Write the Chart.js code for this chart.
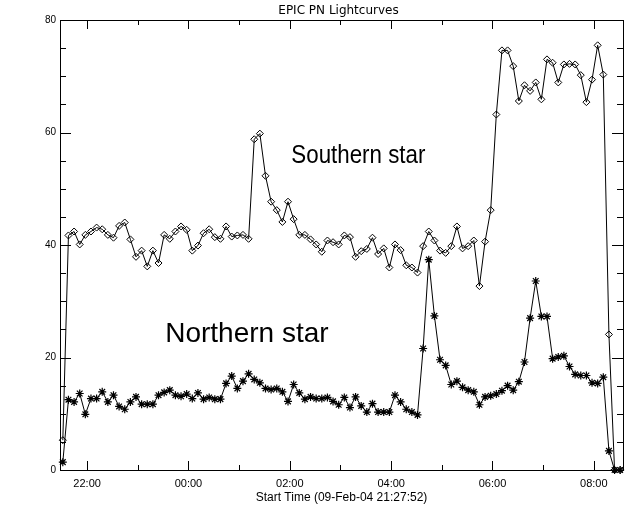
<!DOCTYPE html>
<html>
<head>
<meta charset="utf-8">
<title>EPIC PN Lightcurves</title>
<script src="https://cdn.jsdelivr.net/npm/chart.js@4.4.1/dist/chart.umd.min.js"></script>
<style>
  html, body { margin: 0; padding: 0; background: #fff; }
  canvas { display: block; }
</style>
</head>
<body>
<canvas id="lc" width="640" height="512"></canvas>
<script>
// light curve, 400 s bins starting 09-Feb-04 21:27:52
var startHour = 21 + 27 / 60 + 52 / 3600;
var binSeconds = 400;

var southern = [
  5.3, 41.7, 42.4, 40.1, 41.8, 42.4, 43.1, 42.8, 41.8, 41.3,
  43.4, 44.0, 41.0, 37.9, 39.0, 36.2, 39.0, 36.8, 41.8, 41.1,
  42.4, 43.3, 42.7, 39.0, 39.9, 42.1, 42.8, 41.4, 41.1, 43.3,
  41.5, 41.7, 41.8, 41.1, 58.8, 59.8, 52.3, 47.7, 46.2, 44.1,
  47.7, 44.6, 41.8, 41.8, 41.0, 40.1, 38.8, 40.8, 40.5, 40.1,
  41.7, 41.4, 37.9, 38.9, 39.3, 41.3, 38.4, 39.4, 36.0, 40.1,
  39.1, 36.4, 36.0, 35.1, 39.8, 42.4, 40.8, 39.0, 38.6, 39.8,
  43.3, 39.4, 39.8, 40.8, 32.7, 40.6, 46.2, 63.2, 74.6, 74.6,
  71.8, 65.6, 68.4, 67.4, 68.9, 65.9, 73.0, 72.4, 68.9, 72.1,
  72.2, 72.1, 70.2, 65.4, 69.4, 75.5, 70.3, 24.1, 0, 0
];

var northern = [
  1.4, 12.5, 12.1, 13.6, 9.9, 12.7, 12.7, 13.9, 12.1, 13.3,
  11.3, 10.8, 12.1, 13.0, 11.7, 11.7, 11.7, 13.3, 13.8, 14.2,
  13.3, 13.1, 13.5, 12.7, 13.7, 12.6, 12.9, 12.6, 12.6, 15.4,
  16.7, 14.5, 15.8, 17.1, 16.1, 15.5, 14.5, 14.3, 14.5, 13.9,
  12.2, 15.2, 13.7, 12.6, 13.0, 12.7, 12.7, 12.9, 12.2, 11.6,
  12.9, 11.1, 13.0, 11.4, 10.3, 11.8, 10.3, 10.3, 10.3, 13.3,
  12.1, 10.8, 10.3, 9.8, 21.6, 37.4, 27.4, 19.6, 18.6, 15.2,
  15.8, 14.7, 14.2, 13.9, 11.6, 13.0, 13.2, 13.5, 14.1, 15.0,
  14.2, 15.7, 19.2, 27.0, 33.6, 27.3, 27.3, 19.8, 20.1, 20.3,
  18.4, 17.0, 16.8, 16.8, 15.5, 15.4, 16.5, 3.4, 0, 0
];

var xTickHours = [22, 24, 26, 28, 30, 32];
var xTickLabels = ['22:00', '00:00', '02:00', '04:00', '06:00', '08:00'];
var yTickValues = [0, 20, 40, 60, 80];

var endHour = startHour + southern.length * binSeconds / 3600;

function toPoints(vals) {
  return vals.map(function(v, i) {
    return { x: startHour + (i + 0.5) * binSeconds / 3600, y: v };
  });
}

// IDL style frame: box, inward ticks, title and star labels
var idlFrame = {
  id: 'idlFrame',
  beforeDatasetsDraw: function(chart) {
    var ctx = chart.ctx, a = chart.chartArea, xs = chart.scales.x, ys = chart.scales.y;
    ctx.save();
    ctx.strokeStyle = '#000';
    ctx.lineWidth = 1;
    ctx.strokeRect(a.left + 0.5, a.top + 0.5, a.right - a.left, a.bottom - a.top);
    ctx.beginPath();
    for (var h = Math.ceil(startHour); h <= endHour; h++) {
      var px = Math.round(xs.getPixelForValue(h)) + 0.5;
      var len = h % 2 === 0 ? 9 : 5;
      ctx.moveTo(px, a.bottom); ctx.lineTo(px, a.bottom - len);
      ctx.moveTo(px, a.top); ctx.lineTo(px, a.top + len);
    }
    for (var v = 0; v <= 80; v += 5) {
      var py = Math.round(ys.getPixelForValue(v)) + 0.5;
      var l = v % 20 === 0 ? 11 : 6;
      ctx.moveTo(a.left, py); ctx.lineTo(a.left + l, py);
      ctx.moveTo(a.right, py); ctx.lineTo(a.right - l, py);
    }
    ctx.stroke();
    ctx.restore();
  },
  afterDraw: function(chart) {
    var ctx = chart.ctx, a = chart.chartArea, xs = chart.scales.x, ys = chart.scales.y;
    ctx.save();
    ctx.fillStyle = '#000';
    ctx.textAlign = 'center';
    ctx.textBaseline = 'middle';
    ctx.font = '12px "DejaVu Sans"';
    ctx.fillText('EPIC PN Lightcurves', (a.left + a.right) / 2 - 3, 11);

    ctx.textAlign = 'left';
    ctx.textBaseline = 'alphabetic';
    ctx.font = '25px "Liberation Sans"';
    ctx.fillText('Southern star', xs.getPixelForValue(26.03), ys.getPixelForValue(54.6), 134);
    ctx.font = '28px "Liberation Sans"';
    ctx.fillText('Northern star', xs.getPixelForValue(23.54), ys.getPixelForValue(22.8), 170);
    ctx.restore();
  }
};

new Chart(document.getElementById('lc').getContext('2d'), {
  type: 'line',
  data: {
    datasets: [
      {
        label: 'Southern star',
        data: toPoints(southern),
        borderColor: '#000',
        borderWidth: 1,
        pointStyle: 'rectRot',
        pointRadius: 3.5,
        pointBorderColor: '#000',
        pointBackgroundColor: 'rgba(0,0,0,0)',
        pointBorderWidth: 1,
        tension: 0,
        clip: false
      },
      {
        label: 'Northern star',
        data: toPoints(northern),
        borderColor: '#000',
        borderWidth: 1,
        pointStyle: 'star',
        pointRadius: 4,
        pointBorderColor: '#000',
        pointBorderWidth: 1.2,
        tension: 0,
        clip: false
      }
    ]
  },
  options: {
    responsive: false,
    animation: false,
    events: [],
    layout: { padding: { top: 20, right: 17, left: 0, bottom: 0 } },
    plugins: { legend: { display: false }, title: { display: false }, tooltip: { enabled: false } },
    scales: {
      x: {
        type: 'linear',
        min: startHour,
        max: endHour,
        grid: { display: false, drawTicks: false },
        border: { display: false },
        afterBuildTicks: function(s) { s.ticks = xTickHours.map(function(h) { return { value: h }; }); },
        afterFit: function(s) { s.height = 42; },
        ticks: {
          autoSkip: false,
          maxRotation: 0,
          padding: 7,
          color: '#000',
          font: { family: '"Liberation Sans"', size: 11 },
          callback: function(v) { return xTickLabels[xTickHours.indexOf(v)]; }
        },
        title: {
          display: true,
          text: 'Start Time (09-Feb-04 21:27:52)',
          color: '#000',
          font: { family: '"Liberation Sans"', size: 12 },
          padding: { top: 0, bottom: 7 }
        }
      },
      y: {
        min: 0,
        max: 80,
        grid: { display: false, drawTicks: false },
        border: { display: false },
        afterBuildTicks: function(s) { s.ticks = yTickValues.map(function(v) { return { value: v }; }); },
        afterFit: function(s) { s.width = 60; },
        ticks: {
          padding: 4,
          color: '#000',
          font: { family: '"Liberation Sans"', size: 10 }
        }
      }
    }
  },
  plugins: [idlFrame]
});
</script>
</body>
</html>
